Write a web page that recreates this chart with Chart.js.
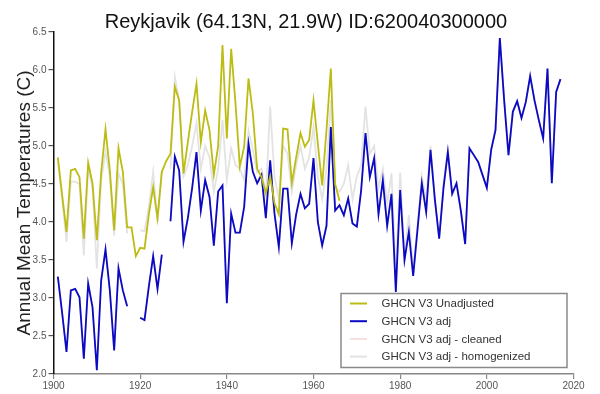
<!DOCTYPE html>
<html>
<head>
<meta charset="utf-8">
<script src="https://cdn.jsdelivr.net/npm/chart.js@4.4.1/dist/chart.umd.min.js"></script>
<style>
  html, body { margin: 0; padding: 0; background: #fff; }
  #wrap { width: 600px; height: 394px; }
</style>
</head>
<body>
<div id="wrap"><canvas id="tempChart" width="600" height="394"></canvas></div>
<script>
// Reykjavik annual mean temperatures, 1901 - 2017 (null = no data)
const years = [];
for (let y = 1901; y <= 2017; y++) years.push(y);

const unadjusted = [
    4.85, 4.35, 3.87, 4.68, 4.70, 4.59, 3.78, 4.78, 4.51, 3.76,   // 1901-1910
    4.65, 5.22, 4.68, 3.89, 4.97, 4.66, 3.93, 3.93, 3.55, 3.66,   // 1911-1920
    3.65, 4.10, 4.46, 4.05, 4.66, 4.80, 4.90, 5.78, 5.60, 4.64,   // 1921-1930
    5.05, 5.45, 5.82, 5.05, 5.47, 5.21, 4.62, 5.00, 6.33, 5.10,   // 1931-1940
    6.28, 5.56, 4.73, 4.99, 5.89, 5.43, 4.70, 4.59, 4.38, 4.60,   // 1941-1950
    4.25, 4.10, 5.23, 5.22, 4.51, 4.85, 5.17, 4.99, 5.08, 5.60,   // 1951-1960
    5.03, 4.48, 5.21, 6.02, 4.50, 4.28, null, null, null, null,   // 1961-1970
    null, null, null, null, null, null, null, null, null, null,   // 1971-1980
    null, null, null, null, null, null, null, null, null, null,   // 1981-1990
    null, null, null, null, null, null, null, null, null, null,   // 1991-2000
    null, null, null, null, null, null, null, null, null, null,   // 2001-2010
    null, null, null, null, null, null, null                      // 2011-2017
];

const adj = [
    3.28, 2.80, 2.29, 3.10, 3.12, 3.01, 2.20, 3.19, 2.88, 2.05,   // 1901-1910
    3.23, 3.64, 3.10, 2.31, 3.39, 3.10, 2.89, null, null, 2.74,   // 1911-1920
    2.71, 3.15, 3.55, 3.12, 3.57, null, 4.01, 4.86, 4.68, 3.74,   // 1921-1930
    4.05, 4.45, 4.92, 4.15, 4.55, 4.33, 3.69, 4.40, 4.48, 2.93,   // 1931-1940
    4.11, 3.86, 3.86, 4.20, 5.03, 4.66, 4.51, 4.62, 4.05, 4.81,   // 1941-1950
    4.11, 3.67, 4.44, 4.44, 3.72, 4.10, 4.37, 4.18, 4.24, 4.84,   // 1951-1960
    4.00, 3.69, 3.95, 5.25, 4.15, 4.22, 4.09, 4.31, 3.98, 3.94,   // 1961-1970
    4.42, 5.17, 4.59, 4.84, 4.10, 4.55, 3.95, 4.37, 3.08, 4.42,   // 1971-1980
    3.50, 3.87, 3.29, 3.90, 4.51, 4.13, 4.95, 4.30, 3.78, 4.45,   // 1981-1990
    4.92, 4.37, 4.51, 4.15, 3.71, 4.97, 4.88, 4.79, 4.62, 4.45,   // 1991-2000
    4.95, 5.21, 6.42, 5.60, 4.88, 5.45, 5.59, 5.37, 5.58, 5.92,   // 2001-2010
    5.60, 5.34, 5.10, 6.02, 4.51, 5.71, 5.88                      // 2011-2017
];

// the "cleaned" series lies under the adj line almost everywhere
const adjCleaned = adj;

const adjHomogenized = [
    4.80, 4.30, 3.74, 4.53, 4.53, 4.50, 3.56, 4.70, 4.45, 3.39,   // 1901-1910
    4.55, 4.93, 4.60, 3.82, 4.64, 4.50, 3.85, null, null, 3.89,   // 1911-1920
    3.88, 4.20, 4.66, 4.00, 4.68, null, 4.70, 5.91, 5.60, 4.60,   // 1921-1930
    4.75, 5.00, 5.30, 4.70, 5.00, 4.85, 4.40, 4.70, 5.34, 4.55,   // 1931-1940
    4.97, 4.75, 4.70, 4.55, 5.20, 4.95, 4.65, 4.70, 4.35, 5.52,   // 1941-1950
    4.60, 4.30, 5.00, 4.90, 4.40, 4.75, 5.00, 4.70, 4.85, 5.25,   // 1951-1960
    4.60, 4.30, 4.70, 5.60, 4.45, 4.40, 4.50, 4.75, 4.30, 4.60,   // 1961-1970
    4.75, 5.52, 4.90, 5.00, 4.45, 4.70, 4.25, 4.64, 3.30, 4.65,   // 1971-1980
    3.55, 4.09, 3.40, 3.95, 4.60, 4.30, 5.00, 4.30, 3.80, 4.50,   // 1981-1990
    4.95, 4.37, 4.51, 4.15, 3.71, 4.97, 4.88, 4.79, 4.62, 4.45,   // 1991-2000
    4.95, 5.21, 6.42, 5.60, 4.88, 5.45, 5.59, 5.37, 5.58, 5.92,   // 2001-2010
    5.60, 5.34, 5.10, 6.02, 4.51, 5.71, 5.88                      // 2011-2017
];

const seriesNames = ['GHCN V3 Unadjusted', 'GHCN V3 adj', 'GHCN V3 adj - cleaned', 'GHCN V3 adj - homogenized'];
const xTicks = [1900, 1920, 1940, 1960, 1980, 2000, 2020];

const FONT = "'Liberation Sans', Arial, sans-serif";

function toPoints(values) {
    return years.map((yr, i) => ({ x: yr, y: values[i] }));
}

// Title + boxed legend drawn on top of the plot
const decorPlugin = {
    id: 'decor',
    afterDraw(chart) {
        const ctx = chart.ctx;
        ctx.save();
        ctx.fillStyle = '#111';
        ctx.font = '20px ' + FONT;
        ctx.textAlign = 'center';
        ctx.textBaseline = 'middle';
        ctx.fillText('Reykjavik (64.13N, 21.9W) ID:620040300000', 306, 22);

        // legend box
        const bx = 341, by = 293.5, bw = 226, bh = 74;
        ctx.fillStyle = '#fff';
        ctx.fillRect(bx, by, bw, bh);
        ctx.strokeStyle = '#8a8a8a';
        ctx.lineWidth = 1.5;
        ctx.strokeRect(bx, by, bw, bh);

        ctx.font = '11.5px ' + FONT;
        ctx.textAlign = 'left';
        chart.data.datasets.forEach((ds, i) => {
            const yy = 303.5 + i * 17.7;
            ctx.strokeStyle = ds.borderColor;
            ctx.lineWidth = 2;
            ctx.beginPath();
            ctx.moveTo(350, yy);
            ctx.lineTo(367, yy);
            ctx.stroke();
            ctx.fillStyle = '#333';
            ctx.fillText(ds.label, 381.5, yy + 0.5);
        });
        ctx.restore();
    }
};

const ctx = document.getElementById('tempChart').getContext('2d');
new Chart(ctx, {
    type: 'line',
    data: {
        datasets: [
            { label: seriesNames[0], data: toPoints(unadjusted), borderColor: '#bcbc14', borderWidth: 1.8 },
            { label: seriesNames[1], data: toPoints(adj), borderColor: '#0a0ac4', borderWidth: 1.8 },
            { label: seriesNames[2], data: toPoints(adjCleaned), borderColor: '#f4dede', borderWidth: 1.8 },
            { label: seriesNames[3], data: toPoints(adjHomogenized), borderColor: '#e3e3e3', borderWidth: 1.8 }
        ]
    },
    options: {
        responsive: false,
        animation: false,
        devicePixelRatio: 1,
        spanGaps: false,
        elements: { point: { radius: 0 }, line: { tension: 0 } },
        layout: { padding: { top: 32, right: 26.5, bottom: 0, left: 0 } },
        plugins: {
            legend: { display: false },
            title: { display: false },
            tooltip: { enabled: false }
        },
        scales: {
            x: {
                type: 'linear',
                min: 1900,
                max: 2020,
                afterBuildTicks: scale => { scale.ticks = xTicks.map(v => ({ value: v })); },
                afterFit: scale => { scale.height = 20; },
                border: { color: '#888', width: 1.5 },
                grid: { drawOnChartArea: false, color: '#888', tickLength: 5, lineWidth: 1.2 },
                ticks: { color: '#555', font: { family: FONT, size: 10 }, padding: 1, maxRotation: 0, callback: v => String(v) }
            },
            y: {
                min: 2.0,
                max: 6.5,
                afterFit: scale => { scale.width = 53.5; },
                border: { color: '#111', width: 1.5 },
                grid: { drawOnChartArea: false, color: '#555', tickLength: 5, lineWidth: 1.2 },
                ticks: { stepSize: 0.5, color: '#555', font: { family: FONT, size: 10 }, padding: 2, callback: v => v.toFixed(1) },
                title: {
                    display: true,
                    text: 'Annual Mean Temperatures (C)',
                    color: '#222',
                    font: { family: FONT, size: 19, lineHeight: 1.2 },
                    padding: { top: 13.5, bottom: 0 }
                }
            }
        }
    },
    plugins: [decorPlugin]
});
</script>
</body>
</html>
